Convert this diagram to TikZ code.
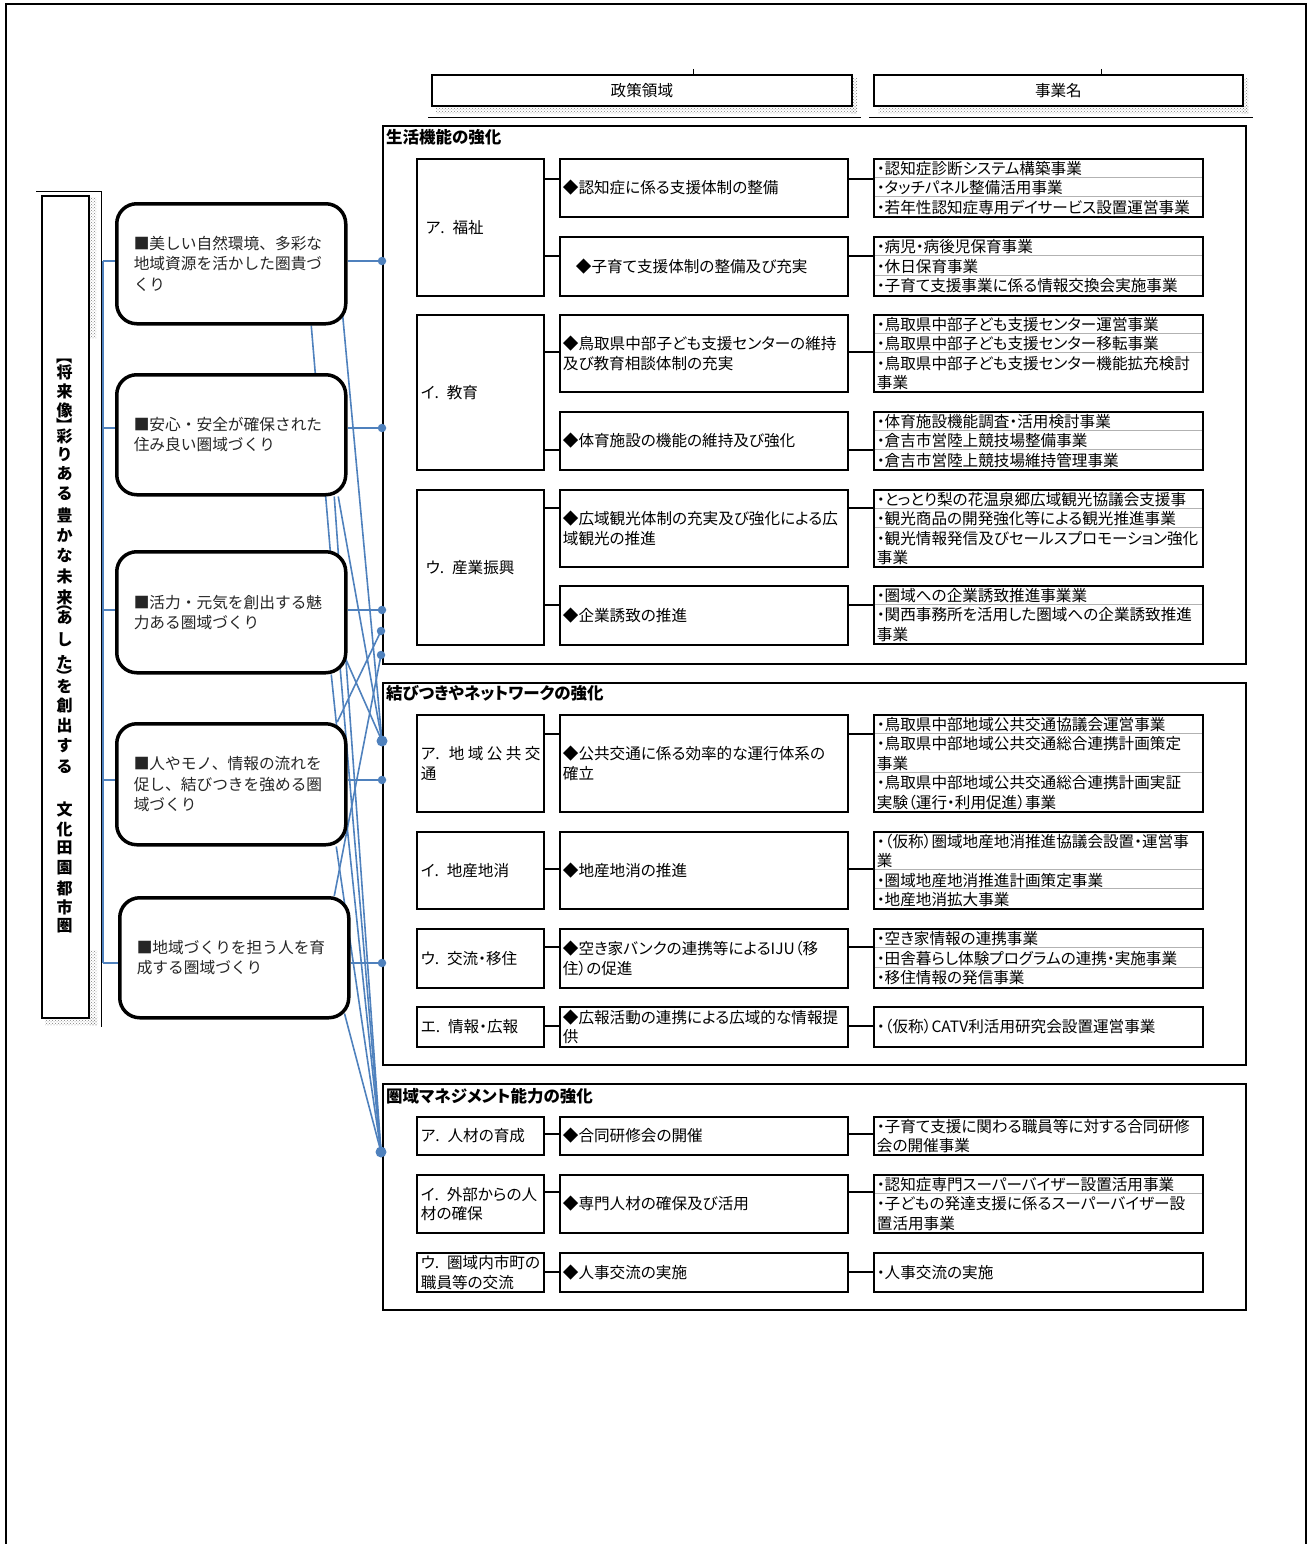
\documentclass[tikz,border=0pt]{standalone}
\usepackage{fontspec}
\setmainfont{Noto Sans CJK JP}[RawFeature=+palt]
\newfontfamily\gothfull{Noto Sans CJK JP}
\usetikzlibrary{calc,patterns,backgrounds}
\definecolor{lnblue}{RGB}{79,129,189}
\newcommand\fsz{\fontsize{15.6pt}{19.4pt}\selectfont}
\newcommand\fgoal{\gothfull\fontsize{15.7pt}{20.4pt}\selectfont}
\newcommand\fsec{\fontsize{16.5pt}{20pt}\selectfont\bfseries}
\newcommand\fvert{\gothfull\fontsize{16pt}{20pt}\selectfont\bfseries}
\tikzset{
  bk/.style={line width=2.5pt},
  bl/.style={draw=lnblue, line width=1.6pt},
  sepl/.style={draw=gray!60, line width=1.2pt},
  shd/.style={pattern=crosshatch dots, pattern color=gray},
  bx/.style={draw, line width=1.8pt, anchor=north west, inner ysep=0pt, font=\fsz, align=left},
  abox/.style={bx, minimum width=127pt, text width=119pt, inner xsep=4pt},
  mbox/.style={bx, minimum width=288pt, text width=282pt, inner xsep=3pt},
  cbox/.style={bx, minimum width=329pt, text width=323pt, inner xsep=3pt},
  secbox/.style={draw, line width=2pt, anchor=north west, minimum width=863pt, inner sep=0pt},
  sectitle/.style={anchor=west, font=\fsec, inner sep=0pt},
  goal/.style={draw, line width=3.5pt, rounded corners=20pt, fill=white, anchor=north west,
    minimum width=229pt, text width=195pt, align=left, font=\fgoal, text=black!85},
  hdr/.style={draw, line width=1.8pt, fill=white, anchor=north west, font=\fsz, inner sep=0pt, minimum height=31pt},
  vch/.style={font=\fvert, inner sep=0pt},
  dot/.style={circle, fill=lnblue, inner sep=0pt, minimum size=8.5pt},
  bigdot/.style={circle, fill=lnblue, inner sep=0pt, minimum size=11pt}
}
\begin{document}
\begin{tikzpicture}[x=1pt,y=-1pt]
\useasboundingbox (0,0) rectangle (1312,1544);
% outer frame
\draw[line width=1.4pt] (6,1544) -- (6,4) -- (1306,4) -- (1306,1544);

% headers
\fill[shd] (436,105) rectangle (857,114);
\fill[shd] (851,79) rectangle (857,114);
\node[hdr, minimum width=420pt] (h1) at (431,74) {政策領域};
\draw[line width=0.8pt] (693,69) -- (693,74);
\draw[line width=1pt] (428,118) -- (861,118);
\fill[shd] (878,105) rectangle (1248,114);
\fill[shd] (1242,79) rectangle (1248,114);
\node[hdr, minimum width=369pt] (h2) at (873,74) {事業名};
\draw[line width=0.8pt] (1101,69) -- (1101,74);
\draw[line width=1pt] (869,118) -- (1253,118);

% title box
\fill[shd] (89,197) rectangle (96,338);
\fill[shd] (90,950) rectangle (97,1025);
\fill[shd] (45,1017) rectangle (97,1025);
\node[draw, line width=2.2pt, fill=white, anchor=north west, minimum width=47pt, minimum height=822pt, inner sep=0pt] (tb) at (41,195) {};
\draw[line width=0.8pt] (36,191) -- (101,191) -- (101,1027);
\node[vch, rotate=-90] (vb1) at (64.5,356) {【};
\node[vch, rotate=-90] (vb2) at (64.5,425) {】};
\node[vch, rotate=-90] (vb3) at (64.5,603) {（};
\node[vch, rotate=-90] (vb4) at (64.5,676) {）};
\foreach \ch/\yy [count=\i] in {将/372,来/391,像/410,彩/436,り/455,あ/474,る/494,豊/515,か/535,な/555,未/576,来/597,あ/618,し/640,た/662,を/686,創/706,出/726,す/746,る/767,文/809,化/829,田/848,園/868,都/888,市/907,圏/926}
  {\node[vch] (v\i) at (64.5,\yy) {\ch};}

% goal boxes
\node[goal, minimum height=120pt] (g1) at (115,202) {■美しい自然環境、多彩な\\地域資源を活かした圏貴づ\\くり};
\node[goal, minimum height=120pt] (g2) at (115,373) {■安心・安全が確保された\\住み良い圏域づくり};
\node[goal, minimum height=121pt] (g3) at (115,550) {■活力・元気を創出する魅\\力ある圏域づくり};
\node[goal, minimum height=121pt] (g4) at (115,722) {■人やモノ、情報の流れを\\促し、結びつきを強める圏\\域づくり};
\node[goal, minimum height=120pt] (g5) at (118,896) {■地域づくりを担う人を育\\成する圏域づくり};

% sections
\node[secbox, minimum height=538pt] (s1) at (382,125) {};
\node[secbox, minimum height=382pt] (s2) at (382,682) {};
\node[secbox, minimum height=226pt] (s3) at (382,1083) {};
\node[sectitle] (t1) at (386,137) {生活機能の強化};
\node[sectitle] (t2) at (386,693) {結びつきやネットワークの強化};
\node[sectitle] (t3) at (386,1096) {圏域マネジメント能力の強化};

% dots
\node[dot] (d1) at (382,261) {};
\node[dot] (d2) at (382,428) {};
\node[dot] (d3) at (382,610) {};
\node[dot] (d4) at (381,631) {};
\node[dot] (d5) at (381,655) {};
\node[bigdot] (d6) at (382,741) {};
\node[dot] (d7) at (382,780) {};
\node[dot] (d8) at (382,963) {};
\node[bigdot] (d9) at (381,1152) {};

% blue connectors (behind)
\begin{pgfonlayer}{background}
\coordinate (L1) at (103,261);
\coordinate (L2) at (103,428);
\coordinate (L3) at (103,610);
\coordinate (L4) at (103,780);
\coordinate (L5) at (103,963);
\draw[bl] (L1) -- (L5);
\foreach \i in {1,...,5} {\draw[bl] (L\i) -- (g\i.west |- L\i);}
\draw[bl] (g1.east |- d1) -- (d1.center);
\draw[bl] (g2.east |- d2) -- (d2.center);
\draw[bl] (g3.east |- d3) -- (d3.center);
\draw[bl] (g4.east |- d7) -- (d7.center);
\draw[bl] (g5.east |- d8) -- (d8.center);
\draw[bl] ($(g1.south east)+(-5,-12)$) -- (d6.center);
\draw[bl] ($(g1.south)+(80,0)$) -- (d9.center);
\draw[bl] ($(g2.south)+(107,0)$) -- (d6.center);
\draw[bl] ($(g2.south)+(103,0)$) -- (d9.center);
\draw[bl] ($(g3.south east)+(-2,-16)$) -- (d6.center);
\draw[bl] ($(g3.south)+(100,0)$) -- (d9.center);
\draw[bl] ($(g4.north)+(106,0)$) -- (d4.center);
\draw[bl] ($(g4.south)+(105,0)$) -- (d9.center);
\draw[bl] ($(g5.north)+(100,0)$) -- (d5.center);
\draw[bl] ($(g5.south east)+(-6,-6)$) -- (d9.center);
\end{pgfonlayer}

% policy area boxes
\node[abox, minimum height=137pt] (a1) at (416,158) {\hspace*{5pt}ア. 福祉};
\node[abox, minimum height=155pt] (a2) at (416,314) {イ. 教育};
\node[abox, minimum height=155pt] (a3) at (416,489) {\hspace*{5pt}ウ. 産業振興};
\node[abox, minimum height=97pt] (a4) at (416,714) {\mbox{ア.\hspace{9pt}地\hspace{3.4pt}域\hspace{3.4pt}公\hspace{3.4pt}共\hspace{3.4pt}交}\\通};
\node[abox, minimum height=77pt] (a5) at (416,831) {イ. 地産地消};
\node[abox, minimum height=59pt] (a6) at (416,928) {ウ. 交流・移住};
\node[abox, minimum height=40pt] (a7) at (416,1006) {エ. 情報・広報};
\node[abox, minimum height=38pt] (a8) at (416,1116) {ア. 人材の育成};
\node[abox, minimum height=58pt] (a9) at (416,1174) {\mbox{イ. 外部からの人}\\材の確保};
\node[abox, minimum height=39pt] (a10) at (416,1252) {\mbox{ウ. 圏域内市町の}\\職員等の交流};

% policy boxes
\node[mbox, minimum height=58pt] (m1) at (559,158) {◆認知症に係る支援体制の整備};
\node[mbox, minimum height=59pt] (m2) at (559,236) {\hspace*{13pt}◆子育て支援体制の整備及び充実};
\node[mbox, minimum height=77pt] (m3) at (559,314) {◆鳥取県中部子ども支援センターの維持\\及び教育相談体制の充実};
\node[mbox, minimum height=58pt] (m4) at (559,411) {◆体育施設の機能の維持及び強化};
\node[mbox, minimum height=77pt] (m5) at (559,489) {◆広域観光体制の充実及び強化による広\\域観光の推進};
\node[mbox, minimum height=59pt] (m6) at (559,585) {◆企業誘致の推進};
\node[mbox, minimum height=97pt] (m7) at (559,714) {◆公共交通に係る効率的な運行体系の\\確立};
\node[mbox, minimum height=77pt] (m8) at (559,831) {◆地産地消の推進};
\node[mbox, minimum height=59pt] (m9) at (559,928) {◆空き家バンクの連携等によるIJU（移\\住）の促進};
\node[mbox, minimum height=40pt] (m10) at (559,1006) {◆広報活動の連携による広域的な情報提\\供};
\node[mbox, minimum height=38pt] (m11) at (559,1116) {◆合同研修会の開催};
\node[mbox, minimum height=58pt] (m12) at (559,1174) {◆専門人材の確保及び活用};
\node[mbox, minimum height=39pt] (m13) at (559,1252) {◆人事交流の実施};

% project boxes
\node[cbox, minimum height=58pt] (c1) at (873,158) {・認知症診断システム構築事業\\・タッチパネル整備活用事業\\・若年性認知症専用デイサービス設置運営事業};
\node[cbox, minimum height=59pt] (c2) at (873,236) {・病児・病後児保育事業\\・休日保育事業\\・子育て支援事業に係る情報交換会実施事業};
\node[cbox, minimum height=77pt] (c3) at (873,314) {・鳥取県中部子ども支援センター運営事業\\・鳥取県中部子ども支援センター移転事業\\・鳥取県中部子ども支援センター機能拡充検討\\事業};
\node[cbox, minimum height=58pt] (c4) at (873,411) {・体育施設機能調査・活用検討事業\\・倉吉市営陸上競技場整備事業\\・倉吉市営陸上競技場維持管理事業};
\node[cbox, minimum height=77pt] (c5) at (873,489) {・とっとり梨の花温泉郷広域観光協議会支援事\\・観光商品の開発強化等による観光推進事業\\・観光情報発信及びセールスプロモーション強化\\事業};
\node[cbox, minimum height=58pt] (c6) at (873,585) {・圏域への企業誘致推進事業業\\・関西事務所を活用した圏域への企業誘致推進\\事業};
\node[cbox, minimum height=97pt] (c7) at (873,714) {・鳥取県中部地域公共交通協議会運営事業\\・鳥取県中部地域公共交通総合連携計画策定\\事業\\・鳥取県中部地域公共交通総合連携計画実証\\実験（運行・利用促進）事業};
\node[cbox, minimum height=77pt] (c8) at (873,831) {・（仮称）圏域地産地消推進協議会設置・運営事\\業\\・圏域地産地消推進計画策定事業\\・地産地消拡大事業};
\node[cbox, minimum height=59pt] (c9) at (873,928) {・空き家情報の連携事業\\・田舎暮らし体験プログラムの連携・実施事業\\・移住情報の発信事業};
\node[cbox, minimum height=40pt] (c10) at (873,1006) {・（仮称）CATV利活用研究会設置運営事業};
\node[cbox, minimum height=38pt] (c11) at (873,1116) {・子育て支援に関わる職員等に対する合同研修\\会の開催事業};
\node[cbox, minimum height=58pt] (c12) at (873,1174) {・認知症専門スーパーバイザー設置活用事業\\・子どもの発達支援に係るスーパーバイザー設\\置活用事業};
\node[cbox, minimum height=39pt] (c13) at (873,1252) {・人事交流の実施};

% row separators inside project boxes
\foreach \yy in {177.3,196.7,255.7,275.3,333.3,352.5,430.3,449.7,508.3,527.5,604.3,733.4,772.2,869.5,888.8,947.7,967.3,1193.3}
  {\draw[sepl] (874.5,\yy) -- (1201.5,\yy);}

% black connectors
\coordinate (r1) at (0,179);
\coordinate (r2) at (0,256);
\coordinate (r3) at (0,352);
\coordinate (r4) at (0,450);
\coordinate (r5) at (0,508);
\coordinate (r6) at (0,605);
\coordinate (r7) at (0,734);
\coordinate (r8) at (0,869);
\coordinate (r9) at (0,947);
\coordinate (r10) at (0,1026);
\coordinate (r11) at (0,1134);
\coordinate (r12) at (0,1192);
\coordinate (r13) at (0,1272);
\foreach \r/\a in {1/1,2/1,3/2,4/2,5/3,6/3,7/4,8/5,9/6,10/7,11/8,12/9,13/10}
  {\draw[bk] (a\a.east |- r\r) -- (m\r.west |- r\r);
   \draw[bk] (m\r.east |- r\r) -- (c\r.west |- r\r);}
\end{tikzpicture}
\end{document}
